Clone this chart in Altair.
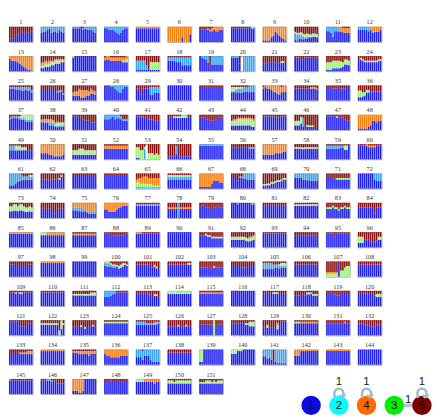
import altair as alt
import pandas as pd

# ---- panel data: 151 panels x 12 bars; each char = share in tenths ('a' = 10)
CLUSTER_NAMES = ["1", "2", "3", "4", "5"]
CLUSTER_COLORS = ["#1f1ff5", "#35a4f4", "#9ef27c", "#ff7f0f", "#8c1010"]

BLUE = {
    1: "223456765667", 2: "667786676766", 3: "999998888776", 4: "998887656899",
    5: "999999999999", 6: "000000030005", 7: "888877777788", 8: "999999999989",
    9: "111134654321", 10: "112222233333", 11: "776377667666", 12: "888877766667",
    13: "877665432110", 14: "223334455566", 15: "9aaaaaaaaaaa", 16: "877777777666",
    17: "111111211111", 18: "777766644444", 19: "988753444444", 20: "999950000000",
    21: "556666665555", 22: "999889999899", 23: "111222223444", 24: "877666666667",
    25: "888777667665", 26: "777777776564", 27: "333322233444", 28: "999888655789",
    29: "884888844555", 30: "aaaaaaaaaaaa", 31: "999999999999", 32: "565555666565",
    33: "888776544556", 34: "888888887877", 35: "999888788899", 36: "223355566666",
    37: "778777665555", 38: "555533322222", 39: "999887666555", 40: "777787777666",
    41: "999888777666", 42: "888888888888", 43: "888776667888", 44: "333333333322",
    45: "999999888999", 46: "333322222222", 47: "999998888766", 48: "111112366566",
    49: "666666666666", 50: "444433222223", 51: "333333333333", 52: "777777777777",
    53: "110000000000", 54: "222232222222", 55: "999999999999", 56: "888888888777",
    57: "333333444455", 58: "777767777777", 59: "777777777777", 60: "999988888999",
    61: "222345566666", 62: "666656666677", 63: "999999999999", 64: "999999999999",
    66: "666666666666", 67: "111111355544", 68: "777577666666",
    69: "222233444566", 70: "777766555555", 71: "777766666666", 72: "aaaaaaaa6555",
    73: "445545544444", 74: "666666636666", 75: "555444433333", 76: "554444567888",
    77: "888888888888", 78: "666660666666", 79: "788776677877", 80: "999999999999",
    81: "888888888888", 82: "888888888888", 83: "666766566766", 84: "777777763777",
    85: "999999999999", 86: "888888888888", 87: "888888888888", 88: "999888888889",
    89: "899999999999", 90: "aaaaaaaaaaaa", 91: "888777666666", 92: "555555544455",
    93: "999999999999", 94: "888888888888", 95: "999979999999", 96: "333555434455",
    97: "888777777788", 98: "999999999999", 99: "aaaaaaaaaaaa", 100: "766666666677",
    101: "888888776655", 102: "888888888888", 103: "666665566666", 104: "777776667777",
    105: "555555666666", 106: "888888888888", 107: "000000900000", 108: "888888888888",
    109: "999898899999", 110: "999999999999", 111: "777777777777", 112: "666778999999",
    113: "888888776666", 114: "888888888888", 115: "888888888888", 116: "aaaaaaaaaaaa",
    117: "888888888888", 118: "777677778777", 119: "888877788888", 120: "888888887666",
    121: "999996666888", 122: "777777777077", 123: "666556456666", 124: "888888888888",
    125: "777777777777", 126: "666666666666", 127: "777777707777", 128: "888888877666",
    129: "665555546999", 130: "888888888888", 131: "888888888888", 132: "888777666777",
    133: "777777777777", 134: "999999999999", 135: "888777776777", 136: "766555556666",
    137: "555366632222", 138: "888888888888", 139: "22aaaaaaaaaa", 140: "777999aaaaaa",
    141: "554432211111", 142: "666999999999", 143: "999999999999", 144: "aaaaaaaaaaaa",
    145: "999999999999", 146: "999888887777", 147: "222112aaaaaa", 148: "888988888888",
    149: "888888888788", 150: "777777777777", 151: "777777777777",
}

CYAN = {
    2: "433214334234", 3: "111101122234", 4: "112223454211", 10: "443321100000",
    11: "334633110000", 12: "222222110000", 17: "666663000000", 18: "222233355555",
    19: "012240555555", 20: "111100aaaaaa", 25: "111222222222", 26: "000000001111",
    28: "000112345211", 29: "000000055444", 32: "002233333444", 36: "000011000000",
    37: "111111111111", 38: "001122211111", 40: "333213222111", 46: "000060000000",
    49: "333100000000", 53: "000080000000", 54: "000050000000", 55: "111111111111",
    56: "000000000111", 59: "222222211000", 61: "887655322222", 65: "111111111111",
    66: "222222222222", 68: "000011334444", 70: "333344445555", 72: "000000004555",
    75: "222222111111", 77: "111111111111", 78: "00000a000000", 80: "000100000000",
    100: "222111000000", 105: "444443222111", 112: "444322000000", 125: "222221111111",
    137: "555544478888", 141: "446560799999", 145: "100000000000", 146: "000111000000",
}

GREEN = {
    8: "000000000011", 10: "111222222222", 14: "122222222211", 15: "100000000000",
    16: "000000000112", 17: "000000055555", 21: "000000000110", 23: "555555543333",
    24: "011111111111", 32: "332111000000", 36: "443211000000", 37: "000001223333",
    38: "000000112222", 42: "000111122200", 44: "333444444444", 46: "333300111100",
    47: "000001000000", 49: "000333222000", 51: "333444333333", 53: "776620444343",
    58: "111111111111", 59: "000000000330", 61: "000000000011", 62: "000000000110",
    65: "332222221111", 66: "111111111111", 69: "111111111111", 71: "000001111111",
    73: "334434433333", 82: "111111111111", 83: "111111111111", 86: "222000000000",
    91: "000111111111", 92: "222222222222", 96: "444000000022", 100: "111111122211",
    101: "000000000110", 102: "000000000011", 103: "000000010000", 105: "000000001222",
    107: "222222044677", 109: "000101100000", 111: "111111111222", 113: "000000000110",
    114: "222222222222", 117: "000001110000", 118: "000000111111", 120: "000000000222",
    122: "1111111111a1", 123: "000010100010", 124: "111111111111", 126: "000001000100",
    127: "0000000a0000", 128: "000000011333", 129: "002000040000", 130: "111000000000",
    139: "880000000000", 140: "333111000000", 149: "222200000000", 150: "222122222222",
    151: "111222121222",
}

ORANGE = {
    5: "111111111111", 6: "aaaaaaa7aaa5", 7: "000011223322", 9: "999976346789",
    11: "000000223333", 12: "000001133332", 13: "233345678899", 14: "222221111111",
    16: "222222222222", 27: "233455443322", 33: "112234456344", 34: "000000001111",
    38: "222222111000", 44: "011111111111", 48: "999998744544", 50: "666677888887",
    52: "222222222222", 57: "777777666655", 60: "000011111000", 65: "224455444545",
    67: "999999655566", 75: "333334456666", 76: "446666433222", 78: "111110111111",
    80: "000000000011", 85: "111111111111", 86: "000222222222", 87: "111111111111",
    89: "111000000000", 92: "000000000111", 98: "111111111111", 107: "111111000000",
    115: "111111111111", 125: "000000000110", 130: "000111111111", 131: "000000000100",
    133: "000001111222", 134: "111111111111", 135: "111222223222", 136: "344555554444",
    142: "444111111111", 143: "111111111111", 147: "888998000000", 149: "000022222322",
}

RED = {
    1: "887654345443", 3: "000001000000", 7: "222212100000", 8: "111111111000",
    10: "344455455445", 11: "000000001111", 14: "443433322222", 16: "100111111110",
    17: "333336844444", 18: "111111111111", 19: "000007000000", 20: "000050000000",
    21: "554444445334", 22: "111221111211", 23: "444333334223", 24: "212333333322",
    25: "111111111113", 26: "333333334335", 27: "444233334234", 28: "100000000000",
    29: "226222211111", 31: "111111111111", 32: "111111111000", 33: "100000000100",
    34: "222222221112", 35: "111222322211", 36: "335433444444", 37: "211111000000",
    38: "333333455555", 39: "111223444555", 40: "000000001333", 41: "111222333444",
    42: "222111100012", 43: "222334443222", 44: "433222222223", 45: "111111222111",
    46: "444124677788", 47: "111101222344", 49: "111111222444", 51: "444333444444",
    52: "111111111111", 53: "224420666767", 54: "888818888888", 56: "222222222222",
    58: "222222222222", 59: "111111111111", 60: "111101111111", 61: "000000122211",
    62: "444444444313", 63: "111111111111", 64: "111111111111", 65: "433222333333",
    66: "111111111111", 68: "333422000000", 69: "776655544433", 71: "333333333333",
    73: "221121123323", 74: "444444474444", 77: "111111111111", 78: "333330333333",
    79: "322334433233", 81: "222222222222", 82: "111111111111", 83: "333233433233",
    84: "333333337333", 87: "111111111111", 88: "111222222221", 89: "000111111111",
    91: "222122333333", 92: "333333334332", 93: "111111111111", 94: "222222222222",
    95: "111131111111", 96: "333555666533", 97: "222333333322", 100: "000122232112",
    101: "222222224235", 102: "222222222211", 103: "444445434444", 104: "333334443333",
    105: "111112222111", 106: "222222222222", 107: "777777166433", 108: "222222222222",
    109: "111111111111", 110: "111111111111", 111: "222222222111", 112: "000000111111",
    113: "222222224224", 115: "111111111111", 117: "222221112222", 118: "333323111222",
    119: "222223322222", 120: "222222223222", 121: "111114444222", 122: "222222222202",
    123: "444434444334", 124: "111111111111", 125: "111112222111", 126: "444443444344",
    127: "333333303333", 128: "222222222111", 129: "443555424111", 130: "111111111111",
    131: "222222222122", 132: "222333444333", 133: "333332222111", 135: "111111111111",
    137: "000100000000", 138: "222222222222", 141: "000008000000", 145: "011111111111",
    146: "111001113333", 148: "222122222222", 150: "111211111111", 151: "222111212111",
}

# ---- legend graph (cluster nodes, self loops and edges)
NODE_ORDER = ["1", "2", "4", "3", "5"]
NODE_COLORS = ["#0a0ae6", "#00ffff", "#ff6a00", "#00ee00", "#7a0000"]
SELF_LOOPS = {"2": "1", "4": "1", "5": "1"}
EDGES = [("3", "5", "1")]

rows = []
for k, table in enumerate([BLUE, CYAN, GREEN, ORANGE, RED]):
    for panel, s in table.items():
        for b, ch in enumerate(s):
            v = int(ch, 16)
            if v:
                rows.append({"panel": panel, "bar": b, "k": k,
                             "cluster": CLUSTER_NAMES[k], "value": v})
df = pd.DataFrame(rows)

bars = alt.Chart(df).mark_bar(strokeWidth=0).encode(
    x=alt.X("bar:O", axis=None, scale=alt.Scale(paddingInner=0.2, paddingOuter=0.05)),
    y=alt.Y("value:Q", stack="normalize", axis=None),
    color=alt.Color("cluster:N", scale=alt.Scale(domain=CLUSTER_NAMES, range=CLUSTER_COLORS),
                    legend=None),
    order=alt.Order("k:Q", sort="ascending"),
).properties(width=25, height=16)

grid = bars.facet(
    facet=alt.Facet("panel:O", title=None,
                    header=alt.Header(labelFontSize=6.5, labelFont="Liberation Serif",
                                      labelPadding=1, labelColor="#333333")),
    columns=12,
    spacing={"row": 6.0, "column": 6.5},
)

# legend data frames
idx = {n: i for i, n in enumerate(NODE_ORDER)}
nodes_df = pd.DataFrame({"node": NODE_ORDER, "idx": list(range(len(NODE_ORDER))),
                         "tier": [0] * len(NODE_ORDER)})
loops_df = pd.DataFrame({"node": list(SELF_LOOPS.keys()),
                         "idx": [idx[n] for n in SELF_LOOPS],
                         "label": list(SELF_LOOPS.values()),
                         "tier": [1.27] * len(SELF_LOOPS)})
edges_df = pd.DataFrame({"a": [idx[e[0]] for e in EDGES], "b": [idx[e[1]] for e in EDGES],
                         "mid": [(idx[e[0]] + idx[e[1]]) / 2 for e in EDGES],
                         "label": [e[2] for e in EDGES], "tier": [0] * len(EDGES)})

xs = alt.Scale(domain=[-10.91, 3.65], nice=False, zero=False)
ys = alt.Scale(domain=[0, 1], nice=False, zero=False)
LOOP_PATH = ("M -0.55 0.85 C -1.3 -1.0, 1.3 -1.0, 0.55 0.85 "
             "M 0.55 0.85 L 0.95 0.3 M 0.55 0.85 L 0.1 0.45")

edge_rule = alt.Chart(edges_df).mark_rule(strokeWidth=4, color="#b2c6ce").encode(
    x=alt.X("a:Q", scale=xs, axis=None), x2="b:Q",
    y=alt.Y("tier:Q", scale=ys, axis=None))
edge_text = alt.Chart(edges_df).mark_text(dy=-7, fontSize=12, font="Liberation Sans",
                                          color="#222222").encode(
    x=alt.X("mid:Q", scale=xs, axis=None), y=alt.Y("tier:Q", scale=ys, axis=None),
    text="label:N")
circles = alt.Chart(nodes_df).mark_circle(size=420, opacity=1).encode(
    x=alt.X("idx:Q", scale=xs, axis=None), y=alt.Y("tier:Q", scale=ys, axis=None),
    fill=alt.Fill("node:N", scale=alt.Scale(domain=NODE_ORDER, range=NODE_COLORS),
                  legend=None))
node_text = alt.Chart(nodes_df).mark_text(fontSize=12, font="Liberation Sans",
                                          baseline="middle", color="#111111").encode(
    x=alt.X("idx:Q", scale=xs, axis=None), y=alt.Y("tier:Q", scale=ys, axis=None),
    text="node:N")
loops = alt.Chart(loops_df).mark_point(shape=LOOP_PATH, filled=False, size=196,
                                       strokeWidth=2.5, color="#a4bcc8", opacity=1).encode(
    x=alt.X("idx:Q", scale=xs, axis=None), y=alt.Y("tier:Q", scale=ys, axis=None))
loop_text = alt.Chart(loops_df).mark_text(dy=-12, fontSize=12, font="Liberation Sans",
                                          color="#222222").encode(
    x=alt.X("idx:Q", scale=xs, axis=None), y=alt.Y("tier:Q", scale=ys, axis=None),
    text="label:N")

legend = alt.layer(edge_rule, edge_text, circles, node_text, loops, loop_text).properties(
    width=426, height=11, view=alt.ViewBackground(stroke="transparent"))

chart = alt.vconcat(grid, legend, spacing=-35).properties(
    padding=0).configure_view(stroke="#a8a8a8", strokeWidth=1)

chart.save("out.html", embed_options={"renderer": "svg", "actions": False})
